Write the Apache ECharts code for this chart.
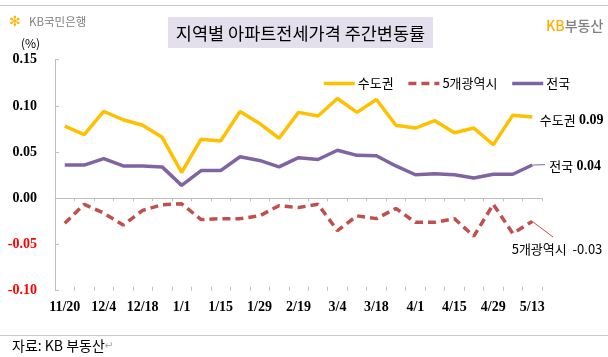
<!DOCTYPE html>
<html>
<head>
<meta charset="utf-8">
<script src="https://cdn.jsdelivr.net/npm/echarts@6/dist/echarts.min.js"></script>
<style>
html,body{margin:0;padding:0;background:#fff;}
#chart{width:608px;height:357px;}
</style>
</head>
<body>
<div id="chart"></div>
<script>
const categories = ['11/20','11/27','12/4','12/11','12/18','12/25','1/1','1/8','1/15','1/22','1/29','2/5','2/19','2/26','3/4','3/11','3/18','3/25','4/1','4/8','4/15','4/22','4/29','5/6','5/13'];
const capitalArea = [0.078,0.069,0.094,0.085,0.079,0.066,0.028,0.064,0.062,0.094,0.081,0.065,0.093,0.089,0.108,0.093,0.107,0.079,0.076,0.084,0.071,0.076,0.058,0.090,0.088];
const fiveCities = [-0.027,-0.0065,-0.016,-0.029,-0.013,-0.007,-0.006,-0.023,-0.022,-0.022,-0.019,-0.008,-0.010,-0.0065,-0.035,-0.019,-0.022,-0.011,-0.026,-0.026,-0.022,-0.041,-0.0065,-0.038,-0.025];
const national = [0.036,0.036,0.043,0.035,0.035,0.034,0.014,0.030,0.030,0.045,0.041,0.034,0.044,0.042,0.052,0.0465,0.046,0.035,0.0255,0.0266,0.0255,0.022,0.026,0.026,0.036];
const seriesNames = ['수도권','5개광역시','전국'];
const yMin = -0.10, yMax = 0.15, yStep = 0.05;

const KR = "'Noto Sans CJK KR', sans-serif";
const NUM = "'Liberation Serif', serif";
const last = categories.length - 1;

const chart = echarts.init(document.getElementById('chart'), null, {renderer:'canvas'});

const baseX = {
  type:'category', data:categories, boundaryGap:true, position:'bottom'
};

const option = {
  backgroundColor:'#fff',
  animation:false,
  grid:{left:55, right:66, top:59.7, bottom:66.3},
  legend:{
    left:317, top:72, itemWidth:31, itemHeight:14, itemGap:13,
    data:seriesNames,
    itemStyle:{opacity:0, borderWidth:0},
    lineStyle:{width:3.5},
    textStyle:{fontFamily:KR, fontSize:13, color:'#000', padding:[0,0,0,-2]}
  },
  xAxis:[
    Object.assign({}, baseX, {
      axisLine:{show:false, onZero:false}, axisTick:{show:false},
      axisLabel:{interval:1, margin:10, fontFamily:NUM, fontWeight:'bold', fontSize:14, color:'#000'}
    }),
    Object.assign({}, baseX, {
      axisLine:{show:true, onZero:true, lineStyle:{color:'#bfbfbf', width:1}},
      axisTick:{show:true, interval:0, inside:false, length:3, lineStyle:{color:'#bfbfbf'}},
      axisLabel:{show:false}
    }),
    Object.assign({}, baseX, {
      axisLine:{show:false, onZero:true},
      axisTick:{show:true, interval:0, inside:true, length:4, lineStyle:{color:'#bfbfbf'}},
      axisLabel:{show:false}
    })
  ],
  yAxis:{
    type:'value', min:yMin, max:yMax, interval:yStep,
    axisLine:{show:true, lineStyle:{color:'#bfbfbf', width:1}},
    axisTick:{show:true, inside:true, length:4, lineStyle:{color:'#bfbfbf'}},
    splitLine:{show:false},
    axisLabel:{
      margin:18, fontFamily:NUM, fontWeight:'bold', fontSize:14,
      formatter:v => v.toFixed(2),
      color:v => (v < -1e-9 ? '#ff0000' : '#000')
    }
  },
  series:[
    {
      name:seriesNames[0], type:'line', data:capitalArea, showSymbol:false, symbol:'none',
      lineStyle:{color:'#FFC000', width:3.5}, itemStyle:{color:'#FFC000'},
      endLabel:{
        show:true, distance:7.5, offset:[0,3],
        formatter:p => '{a|' + p.seriesName + '} {b|' + p.value.toFixed(2) + '}',
        rich:{a:{fontFamily:KR, fontSize:13, color:'#000'}, b:{fontFamily:NUM, fontWeight:'bold', fontSize:14, color:'#000'}}
      }
    },
    {
      name:seriesNames[1], type:'line', data:fiveCities, showSymbol:false, symbol:'none',
      lineStyle:{color:'#C0504D', width:3.5, type:[8,5]}, itemStyle:{color:'#C0504D'},
      endLabel:{
        show:true, distance:5, offset:[-25.6,27.3],
        formatter:p => p.seriesName + '  ' + p.value.toFixed(2),
        fontFamily:KR, fontSize:13, color:'#000'
      },
      markLine:{
        silent:true, symbol:'none', label:{show:false},
        lineStyle:{color:'#C0504D', width:1, type:'solid'},
        data:[[{coord:[categories[last], fiveCities[last]]},{x:553, y:237}]]
      }
    },
    {
      name:seriesNames[2], type:'line', data:national, showSymbol:false, symbol:'none',
      lineStyle:{color:'#8064A2', width:3.5}, itemStyle:{color:'#8064A2'},
      endLabel:{
        show:true, distance:17, offset:[0,1.5],
        formatter:p => '{a|' + p.seriesName + '} {b|' + p.value.toFixed(2) + '}',
        rich:{a:{fontFamily:KR, fontSize:13, color:'#000'}, b:{fontFamily:NUM, fontWeight:'bold', fontSize:14, color:'#000'}}
      },
      markLine:{
        silent:true, symbol:'none', label:{show:false},
        lineStyle:{color:'#8064A2', width:1, type:'solid'},
        data:[[{coord:[categories[last], national[last]]},{x:545, y:164.7}]]
      }
    }
  ],
  graphic:[
    {type:'line', shape:{x1:0,y1:5.5,x2:608,y2:5.5}, style:{stroke:'#c8c8c8', lineWidth:1}},
    {type:'line', shape:{x1:0,y1:335.5,x2:608,y2:335.5}, style:{stroke:'#c8c8c8', lineWidth:1}},
    {type:'rect', shape:{x:168,y:17,width:265,height:31}, style:{fill:'#E4DFEC'}},
    {type:'text', x:300.5, y:33, style:{text:'지역별 아파트전세가격 주간변동률', font:"17.5px 'Noto Sans CJK KR'", fill:'#000', align:'center', verticalAlign:'middle'}},
    {type:'text', x:9, y:22, style:{text:'✻', font:"bold 14px 'DejaVu Sans'", fill:'#FFB300', verticalAlign:'middle'}},
    {type:'text', x:29, y:22, style:{text:'KB국민은행', font:"11.5px 'Noto Sans CJK KR'", fill:'#7f7f7f', verticalAlign:'middle'}},
    {type:'text', x:21, y:43, style:{text:'(%)', font:"12px 'Noto Sans CJK KR'", fill:'#000', verticalAlign:'middle'}},
    {type:'text', x:546, y:26, style:{
      text:'{k|KB}{d|부동산}', verticalAlign:'middle',
      rich:{k:{font:"500 14px 'Noto Sans CJK KR'", fill:'#FFB000'}, d:{font:"500 14px 'Noto Sans CJK KR'", fill:'#808080'}}
    }},
    {type:'text', x:12, y:346, style:{
      text:'{t|자료: KB 부동산}{r|↵}', verticalAlign:'middle',
      rich:{t:{font:"14px 'Noto Sans CJK KR'", fill:'#000'}, r:{font:"11px 'DejaVu Sans'", fill:'#b0b0b0'}}
    }}
  ]
};
chart.setOption(option);
</script>
</body>
</html>
